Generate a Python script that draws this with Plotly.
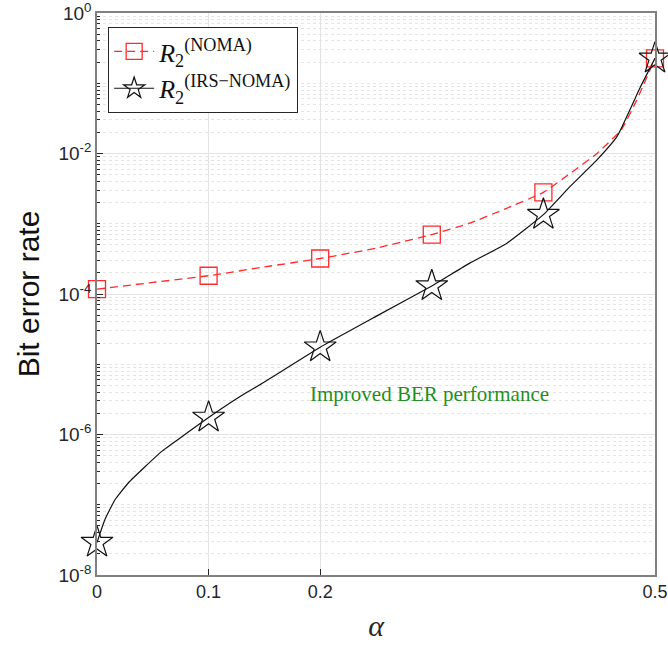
import plotly.graph_objects as go

# ---- data ----
alpha_markers = [0.0, 0.1, 0.2, 0.3, 0.4, 0.5]
ber_noma_markers = [1.17e-4, 1.82e-4, 3.2e-4, 7.0e-4, 2.8e-3, 0.226]
ber_irs_markers = [2.9e-8, 1.75e-6, 1.75e-5, 1.3e-4, 1.35e-3, 0.226]

alpha_noma_curve = [0.0, 0.05, 0.1, 0.15, 0.2, 0.25, 0.3, 0.334, 0.367, 0.4, 0.424, 0.448, 0.47, 0.4835, 0.5]
ber_noma_curve = [1.17e-4, 1.46e-4, 1.82e-4, 2.43e-4, 3.2e-4, 4.5e-4, 7.0e-4, 1.02e-3, 1.66e-3,
                  2.8e-3, 5.2e-3, 1.0e-2, 2.2e-2, 5.7e-2, 0.226]

alpha_irs_curve = [0.0, 0.0072, 0.016, 0.028, 0.043, 0.058, 0.076, 0.1, 0.124, 0.15, 0.2, 0.25, 0.3,
                   0.334, 0.367, 0.4, 0.424, 0.448, 0.466, 0.487, 0.5]
ber_irs_curve = [2.9e-8, 6.2e-8, 1.17e-7, 2.04e-7, 3.47e-7, 5.75e-7, 9.3e-7, 1.75e-6, 3.16e-6,
                 5.6e-6, 1.75e-5, 4.8e-5, 1.3e-4, 2.75e-4, 5.25e-4, 1.35e-3, 3.4e-3, 8.1e-3,
                 1.75e-2, 8.9e-2, 0.226]

x_tickvals = [0, 0.1, 0.2, 0.5]
x_ticktext = ["0", "0.1", "0.2", "0.5"]
y_exponents = [0, -2, -4, -6, -8]

label_noma = "<i>R</i><sub>2</sub><sup>(NOMA)</sup>"
label_irs = "<i>R</i><sub>2</sub><sup>(IRS\u2212NOMA)</sup>"
annotation_text = "Improved BER performance"

RED = "#ff2a2a"
BLACK = "#111111"

fig = go.Figure()

# smooth curves
fig.add_trace(go.Scatter(x=alpha_noma_curve, y=ber_noma_curve, mode="lines",
                         line=dict(color=RED, width=1.3, dash="8px,5px", shape="spline", smoothing=0.4),
                         showlegend=False, hoverinfo="skip"))
fig.add_trace(go.Scatter(x=alpha_irs_curve, y=ber_irs_curve, mode="lines",
                         line=dict(color=BLACK, width=1.2, shape="spline", smoothing=0.4),
                         showlegend=False, hoverinfo="skip"))
# markers
fig.add_trace(go.Scatter(x=alpha_markers, y=ber_noma_markers, mode="markers", showlegend=False,
                         marker=dict(symbol="square-open", size=17, color=RED, line=dict(width=1.3)),
                         cliponaxis=False))
fig.add_trace(go.Scatter(x=alpha_markers, y=ber_irs_markers, mode="markers", showlegend=False,
                         marker=dict(symbol="star-open", size=24, color=BLACK, line=dict(width=1.2)),
                         cliponaxis=False))
# legend entries
fig.add_trace(go.Scatter(x=[None], y=[None], mode="markers+lines", name=label_noma,
                         line=dict(color=RED, width=1.3, dash="8px,5px"),
                         marker=dict(symbol="square-open", size=17, color=RED, line=dict(width=1.3))))
fig.add_trace(go.Scatter(x=[None], y=[None], mode="markers+lines", name=label_irs,
                         line=dict(color=BLACK, width=1.2),
                         marker=dict(symbol="star-open", size=24, color=BLACK, line=dict(width=1.2))))

minor_vals = []
for e in range(-8, 0):
    for k in range(1, 10):
        if not (k == 1 and e % 2 == 0):
            minor_vals.append(k * 10.0 ** e)

fig.update_layout(
    width=668, height=648,
    margin=dict(l=97, r=13, t=13, b=73),
    plot_bgcolor="white", paper_bgcolor="white",
    font=dict(family="Liberation Sans, Arial", color="#262626"),
    xaxis=dict(range=[0, 0.5], tickvals=x_tickvals, ticktext=x_ticktext, automargin=False,
               ticklabeloverflow="allow",
               ticks="inside", ticklen=6, tickcolor="#262626",
               showline=True, linecolor="#808080", linewidth=1.5, mirror=True,
               showgrid=True, gridcolor="#e3e3e3", gridwidth=1, zeroline=False,
               tickfont=dict(size=18, color="#262626"),
               title=dict(text="<i>α</i>", font=dict(family="Liberation Serif, Times New Roman", size=30, color="#262626"),
                          standoff=14)),
    yaxis=dict(type="log", range=[-8, 0], automargin=False,
               ticklabeloverflow="allow",
               tickvals=[10.0 ** e for e in y_exponents],
               ticktext=["10<sup>%d</sup>" % e for e in y_exponents],
               ticks="inside", ticklen=6, tickcolor="#262626",
               showline=True, linecolor="#808080", linewidth=1.5, mirror=True,
               showgrid=True, gridcolor="#e3e3e3", gridwidth=1, zeroline=False,
               tickfont=dict(size=19, color="#262626"),
               minor=dict(tickvals=minor_vals, ticks="inside", ticklen=3, tickcolor="#262626",
                          showgrid=True, gridcolor="#e4e4e4", griddash="dot", gridwidth=1),
               title=dict(text="Bit error rate", font=dict(size=30, color="#111111"), standoff=10)),
    legend=dict(x=0.02, y=0.975, xanchor="left", yanchor="top",
                bgcolor="white", bordercolor="#262626", borderwidth=1,
                font=dict(family="Liberation Serif, Times New Roman", size=26, color="#111111"),
                itemwidth=40, tracegroupgap=0),
    annotations=[dict(x=0.298, y=-5.43, xref="x", yref="y", text=annotation_text, showarrow=False,
                      font=dict(family="Liberation Serif, Times New Roman", size=21, color="#1f8f1f"))],
)

fig.write_html("out.html", config={"displayModeBar": False},
               post_script="document.body.style.margin='0';document.body.style.overflow='hidden';")
